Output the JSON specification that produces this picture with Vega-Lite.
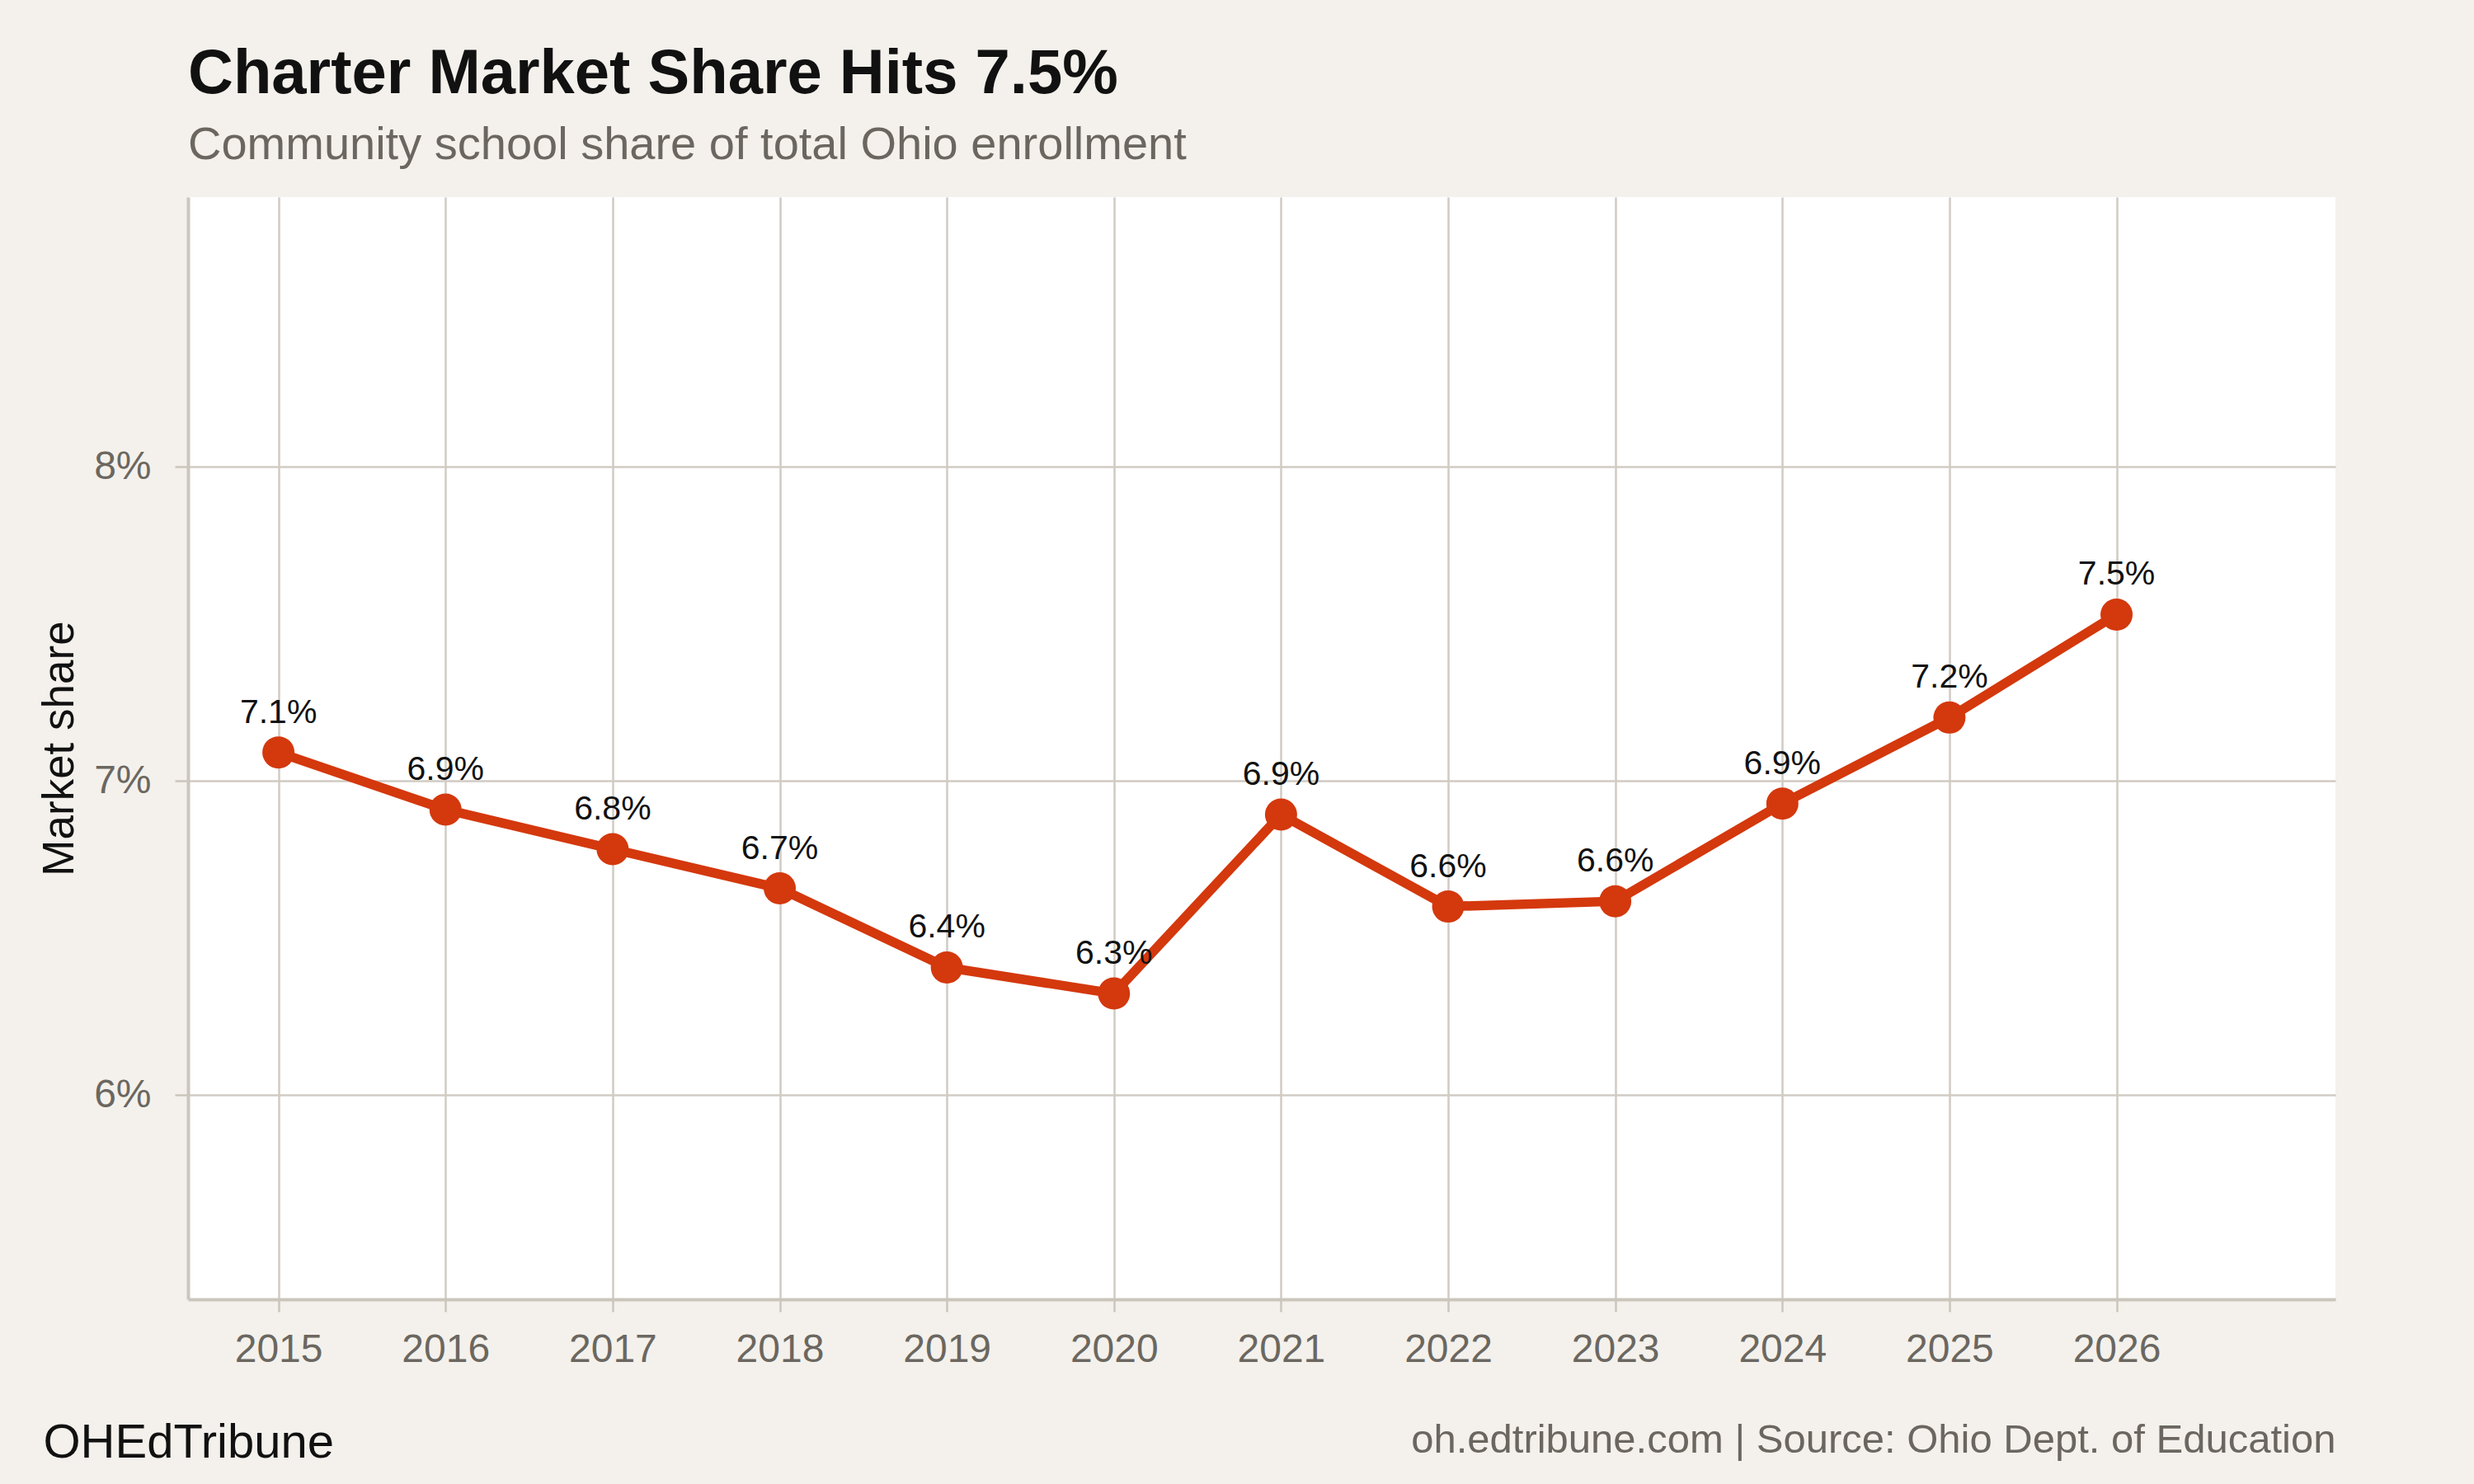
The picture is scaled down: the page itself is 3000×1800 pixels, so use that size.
{
  "$schema": "https://vega.github.io/schema/vega-lite/v6.json",
  "width": 2604,
  "height": 1337,
  "autosize": {"type": "none"},
  "padding": {"left": 228, "top": 239, "right": 168, "bottom": 224},
  "background": "#f4f1ec",
  "config": {
    "view": {"fill": "#ffffff", "stroke": null},
    "font": "Liberation Sans",
    "axis": {
      "labelFont": "Liberation Sans",
      "titleFont": "Liberation Sans",
      "gridColor": "#d0cbc3",
      "gridWidth": 2.5,
      "domainColor": "#cbc6bd",
      "domainWidth": 4,
      "tickColor": "#cbc6bd",
      "tickWidth": 2.5
    }
  },
  "title": {
    "text": "Charter Market Share Hits 7.5%",
    "subtitle": "Community school share of total Ohio enrollment",
    "anchor": "start",
    "frame": "group",
    "font": "Liberation Sans",
    "fontSize": 76,
    "fontWeight": "bold",
    "color": "#111111",
    "subtitleFont": "Liberation Sans",
    "subtitleFontSize": 56,
    "subtitleColor": "#6b6760",
    "subtitlePadding": 20,
    "offset": 34
  },
  "data": {
    "values": [
      {"year": 2015, "share": 0.07091},
      {"year": 2016, "share": 0.06909},
      {"year": 2017, "share": 0.06783},
      {"year": 2018, "share": 0.06658},
      {"year": 2019, "share": 0.06406},
      {"year": 2020, "share": 0.06323},
      {"year": 2021, "share": 0.06893},
      {"year": 2022, "share": 0.06600},
      {"year": 2023, "share": 0.06617},
      {"year": 2024, "share": 0.06928},
      {"year": 2025, "share": 0.07202},
      {"year": 2026, "share": 0.07530}
    ]
  },
  "layer": [
    {
      "mark": {"type": "line", "color": "#d4380d", "strokeWidth": 11.5},
      "encoding": {
        "x": {
          "field": "year",
          "type": "quantitative",
          "scale": {"domain": [2014.459, 2027.31], "nice": false, "zero": false},
          "axis": {
            "values": [2015, 2016, 2017, 2018, 2019, 2020, 2021, 2022, 2023, 2024, 2025, 2026],
            "format": "d",
            "labelFontSize": 48,
            "labelColor": "#6b6760",
            "tickSize": 15,
            "labelPadding": 22,
            "title": "oh.edtribune.com | Source: Ohio Dept. of Education",
            "titleFontSize": 49,
            "titleFontWeight": "normal",
            "titleColor": "#6b6760",
            "titleAnchor": "end",
            "titleAlign": "right",
            "titleBaseline": "alphabetic",
            "titleX": 2604,
            "titleY": 185
          }
        },
        "y": {
          "field": "share",
          "type": "quantitative",
          "scale": {"domain": [0.05349, 0.0886], "nice": false, "zero": false},
          "axis": {
            "values": [0.06, 0.07, 0.08],
            "format": ".0%",
            "labelFontSize": 48,
            "labelColor": "#6b6760",
            "tickSize": 16,
            "labelPadding": 29,
            "title": "Market share",
            "titleFontSize": 53,
            "titleFontWeight": "normal",
            "titleColor": "#111111",
            "titleAngle": 270,
            "titleAlign": "center",
            "titleBaseline": "alphabetic",
            "titleX": -140,
            "titleY": 668.5
          }
        }
      }
    },
    {
      "mark": {"type": "point", "filled": true, "color": "#d4380d", "size": 1521, "opacity": 1},
      "encoding": {
        "x": {
          "field": "year",
          "type": "quantitative",
          "scale": {"domain": [2014.459, 2027.31], "nice": false, "zero": false},
          "axis": {
            "orient": "bottom",
            "labels": false,
            "ticks": false,
            "domain": false,
            "grid": false,
            "title": "OHEdTribune",
            "titleFontSize": 58,
            "titleFontWeight": "normal",
            "titleColor": "#111111",
            "titleAnchor": "start",
            "titleAlign": "left",
            "titleBaseline": "alphabetic",
            "titleX": -176,
            "titleY": 191
          }
        },
        "y": {
          "field": "share",
          "type": "quantitative",
          "scale": {"domain": [0.05349, 0.0886], "nice": false, "zero": false}
        }
      }
    },
    {
      "mark": {"type": "text", "dy": -36, "baseline": "alphabetic", "fontSize": 41, "color": "#111111", "font": "Liberation Sans"},
      "encoding": {
        "x": {
          "field": "year",
          "type": "quantitative",
          "scale": {"domain": [2014.459, 2027.31], "nice": false, "zero": false},
          "axis": null
        },
        "y": {
          "field": "share",
          "type": "quantitative",
          "scale": {"domain": [0.05349, 0.0886], "nice": false, "zero": false}
        },
        "text": {"field": "share", "type": "quantitative", "format": ".1%"}
      }
    }
  ],
  "resolve": {"axis": {"x": "independent"}}
}
